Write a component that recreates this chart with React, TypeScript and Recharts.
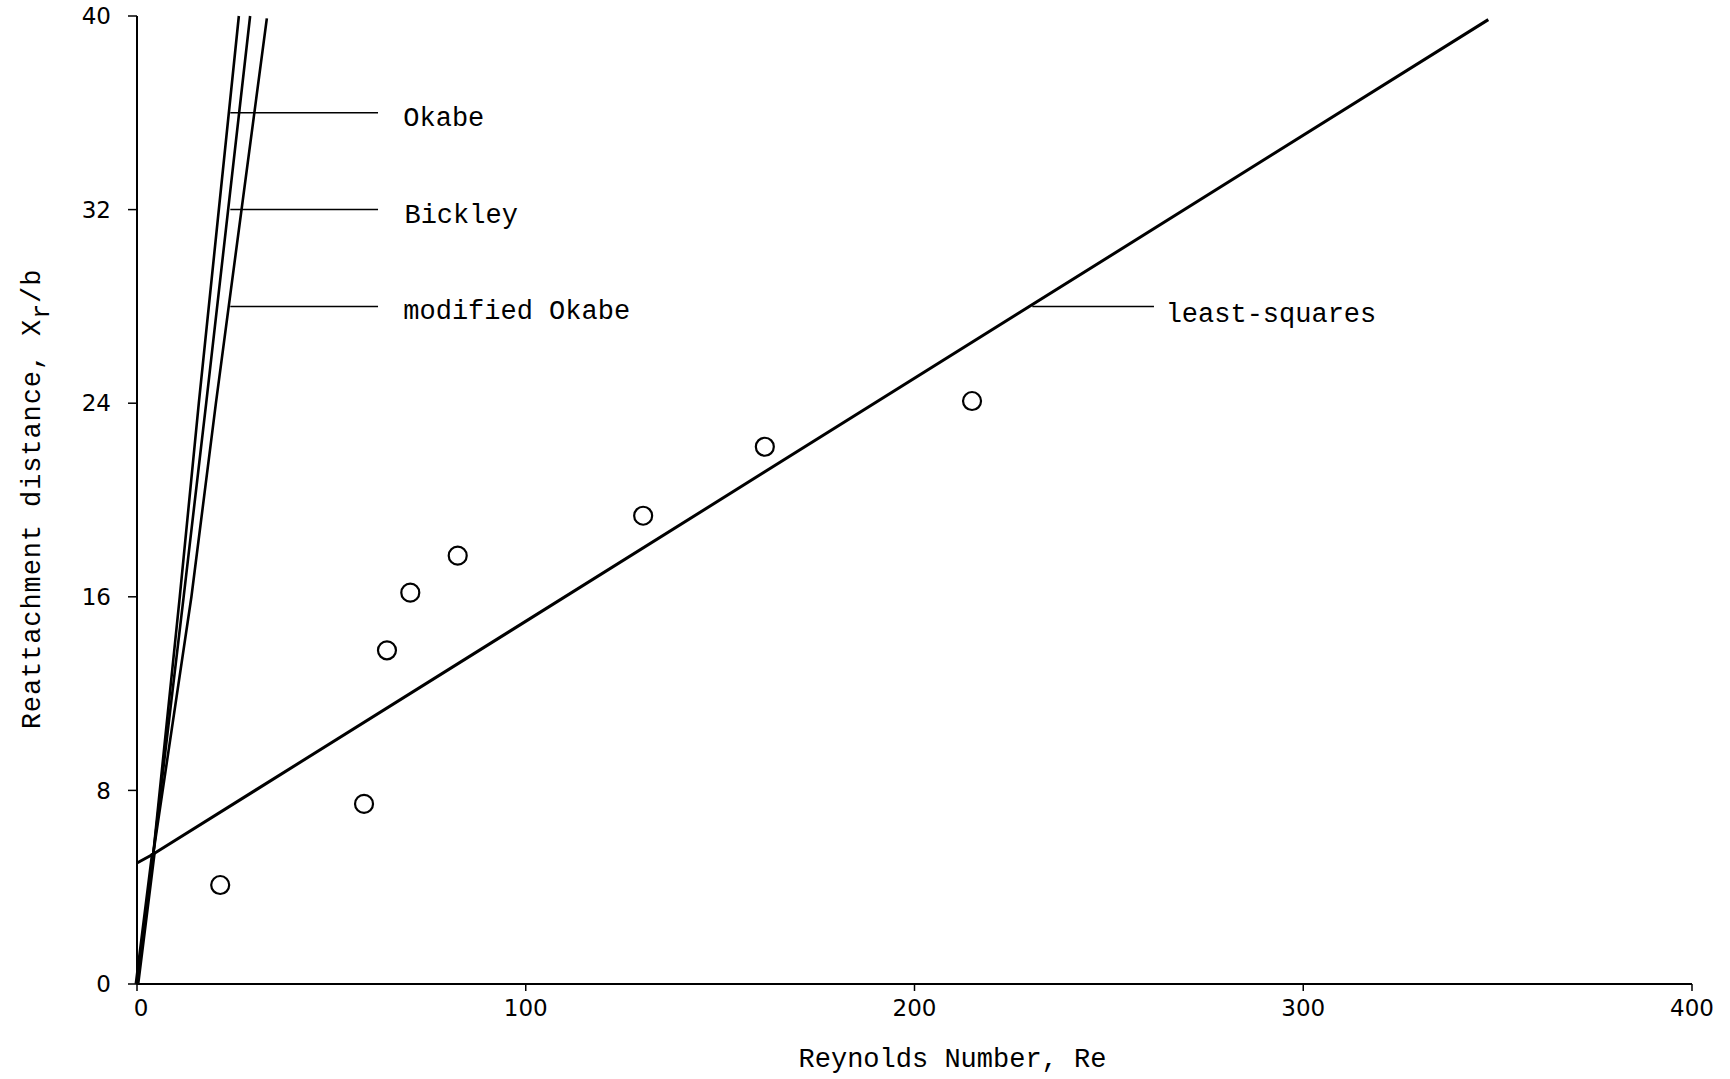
import React from 'react';
import { ComposedChart, Line, Scatter, XAxis, YAxis, Label } from 'recharts';

const xTicks = [0, 100, 200, 300, 400];
const yTicks = [0, 8, 16, 24, 32, 40];

const experimentRe = [21.4, 58.4, 64.3, 70.3, 82.5, 130.2, 161.5, 214.8];
const experimentXr = [4.09, 7.44, 13.79, 16.17, 17.7, 19.35, 22.2, 24.09];

const commonStart = [
  { x: 0, y: 0 },
  { x: 4.2, y: 5.4 },
];
const okabe = [
  { x: 4.2, y: 5.4 },
  { x: 11.0, y: 16 },
  { x: 15.9, y: 24 },
  { x: 26.2, y: 40 },
];
const bickley = [
  { x: 4.2, y: 5.4 },
  { x: 12.0, y: 16 },
  { x: 17.8, y: 24 },
  { x: 29.1, y: 40 },
];
const modifiedOkabe = [
  { x: 4.2, y: 5.4 },
  { x: 14.0, y: 16 },
  { x: 20.3, y: 24 },
  { x: 33.4, y: 39.9 },
];
const leastSquares = [
  { x: 0, y: 5.0 },
  { x: 4, y: 5.35 },
  { x: 347.6, y: 39.85 },
];

const labelNames = ['Okabe', 'Bickley', 'modified Okabe', 'least-squares'];
const labelRe = [68.5, 68.8, 68.5, 264.6];
const labelXr = [36, 32, 28, 27.9];
const connectorStartRe = [24, 24, 24, 230.3];
const connectorEndRe = [62, 62, 62, 261.6];

const experiments = experimentRe.map((x, i) => ({ x, y: experimentXr[i] }));
const labels = labelNames.map((name, i) => ({ x: labelRe[i], y: labelXr[i], name }));
const connectors = labelNames.map((_, i) => [
  { x: connectorStartRe[i], y: i === 3 ? 28 : labelXr[i] },
  { x: connectorEndRe[i], y: i === 3 ? 28 : labelXr[i] },
]);

const mono = "'Liberation Mono', 'Courier New', monospace";
const sans = "'DejaVu Sans', sans-serif";

const CircleShape = (props: any) => {
  const { cx, cy } = props;
  if (cx == null || cy == null) return null;
  return <circle cx={cx} cy={cy} r={9} fill="#fff" stroke="#000" strokeWidth={2.2} />;
};

const TextShape = (props: any) => {
  const { cx, cy, payload } = props;
  if (cx == null || cy == null) return null;
  return (
    <text x={cx} y={cy} dy={13} fontFamily={mono} fontSize={27} fill="#000" textAnchor="start">
      {payload.name}
    </text>
  );
};

const XTick = (props: any) => {
  const { x, y, payload } = props;
  const dx = payload.value === 0 ? 4 : 0;
  return (
    <text x={x + dx} y={y} dy="0.71em" textAnchor="middle" fontFamily={sans} fontSize={23} fill="#000">
      {payload.value}
    </text>
  );
};

const YTick = (props: any) => {
  const { x, y, payload } = props;
  return (
    <text x={x} y={y} dy="0.355em" textAnchor="end" fontFamily={sans} fontSize={23} fill="#000">
      {payload.value}
    </text>
  );
};

const XTitle = (props: any) => {
  const vb = props.viewBox || { x: 137, y: 984, width: 1555, height: 95 };
  const cx = vb.x + vb.width / 2 + 38;
  return (
    <text x={cx} y={vb.y + 83} fontFamily={mono} fontSize={27} fill="#000" textAnchor="middle">
      Reynolds Number, Re
    </text>
  );
};

const YTitle = (props: any) => {
  const vb = props.viewBox || { x: 0, y: 16, width: 137, height: 968 };
  const cx = 33;
  const cy = vb.y + vb.height / 2 - 1;
  return (
    <text
      x={cx}
      y={cy}
      transform={`rotate(-90, ${cx}, ${cy})`}
      fontFamily={mono}
      fontSize={27}
      letterSpacing={0.9}
      fill="#000"
      textAnchor="middle"
      dominantBaseline="central"
    >
      <tspan>Reattachment distance, X</tspan>
      <tspan dy={9} fontSize={25}>r</tspan>
      <tspan dy={-9}>/b</tspan>
    </text>
  );
};

export default function App() {
  return (
    <div style={{ position: 'absolute', left: 0, top: 0, background: '#fff' }}>
      <ComposedChart
        width={1730}
        height={1079}
        margin={{ top: 16, right: 38, left: 0, bottom: 0 }}
      >
        <XAxis
          type="number"
          dataKey="x"
          domain={[0, 400]}
          ticks={xTicks}
          interval={0}
          height={95}
          axisLine={{ stroke: '#000', strokeWidth: 2 }}
          tickLine={{ stroke: '#000', strokeWidth: 1.5 }}
          tickSize={7}
          tickMargin={9}
          tick={<XTick />}
        >
          <Label content={<XTitle />} />
        </XAxis>
        <YAxis
          type="number"
          dataKey="y"
          domain={[0, 40]}
          ticks={yTicks}
          interval={0}
          width={137}
          axisLine={{ stroke: '#000', strokeWidth: 2 }}
          tickLine={{ stroke: '#000', strokeWidth: 1.5 }}
          tickSize={9}
          tickMargin={17}
          tick={<YTick />}
        >
          <Label content={<YTitle />} />
        </YAxis>

        <Line data={leastSquares} dataKey="y" type="linear" stroke="#000" strokeWidth={3} dot={false} isAnimationActive={false} />
        <Line data={okabe} dataKey="y" type="linear" stroke="#000" strokeWidth={2.6} dot={false} isAnimationActive={false} />
        <Line data={bickley} dataKey="y" type="linear" stroke="#000" strokeWidth={2.6} dot={false} isAnimationActive={false} />
        <Line data={modifiedOkabe} dataKey="y" type="linear" stroke="#000" strokeWidth={2.6} dot={false} isAnimationActive={false} />
        <Line data={commonStart} dataKey="y" type="linear" stroke="#000" strokeWidth={5} dot={false} isAnimationActive={false} />
        {connectors.map((c, i) => (
          <Line key={i} data={c} dataKey="y" type="linear" stroke="#000" strokeWidth={1.5} dot={false} isAnimationActive={false} />
        ))}
        <Scatter data={experiments} dataKey="y" shape={<CircleShape />} isAnimationActive={false} />
        <Scatter data={labels} dataKey="y" shape={<TextShape />} isAnimationActive={false} />
      </ComposedChart>
    </div>
  );
}
